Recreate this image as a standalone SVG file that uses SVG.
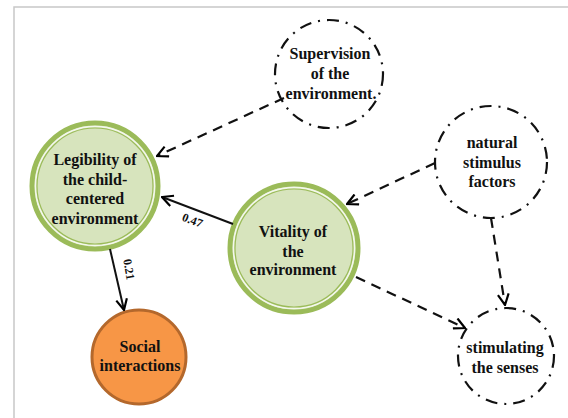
<svg xmlns="http://www.w3.org/2000/svg" width="568" height="418" viewBox="0 0 568 418">
<defs>
<marker id="ah" viewBox="0 0 12 12" refX="11" refY="6" markerWidth="13" markerHeight="13" markerUnits="userSpaceOnUse" orient="auto">
<path d="M1,1 L11,6 L1,11" fill="none" stroke="#000" stroke-width="2"/>
</marker>
</defs>
<style>
.t{font-family:"Liberation Serif","Times New Roman",serif;font-weight:bold;font-size:16px;fill:#111;text-anchor:middle}
.lbl{font-family:"Liberation Serif","Times New Roman",serif;font-weight:bold;font-size:12px;fill:#111;text-anchor:middle}
.g{fill:#d7e4bd;stroke:#9bbb59;stroke-width:5}
.gi{fill:none;stroke:#f4f8ec;stroke-width:1.5}
.gi2{fill:none;stroke:#9bbb59;stroke-width:1.2}
.dd{fill:#fff;stroke:#111;stroke-width:2.2;stroke-dasharray:12 7 2 7}
.solid{fill:none;stroke:#111;stroke-width:2;marker-end:url(#ah)}
.dash{fill:none;stroke:#111;stroke-width:2.2;stroke-dasharray:10 7;marker-end:url(#ah)}
</style>
<rect x="14" y="7" width="560" height="420" fill="#fff" stroke="#c8c8c8" stroke-width="1.5"/>
<g id="supervision">
<circle class="dd" cx="329" cy="74" r="54"/>
<text class="t" x="330" y="59">Supervision</text>
<text class="t" x="330" y="79">of the</text>
<text class="t" x="331" y="99">environment.</text>
</g>
<g id="natural">
<circle class="dd" cx="491" cy="162" r="56"/>
<text class="t" x="492" y="148">natural</text>
<text class="t" x="492" y="168">stimulus</text>
<text class="t" x="492" y="187">factors</text>
</g>
<g id="stimulating">
<circle class="dd" cx="506" cy="356" r="48"/>
<text class="t" x="505" y="353">stimulating</text>
<text class="t" x="505" y="373">the senses</text>
</g>
<g id="legibility">
<circle class="g" cx="95" cy="186" r="63"/>
<circle class="gi" cx="95" cy="186" r="59.5"/>
<circle class="gi2" cx="95" cy="186" r="58"/>
<text class="t" x="95" y="165">Legibility of</text>
<text class="t" x="95" y="185">the child-</text>
<text class="t" x="95" y="204">centered</text>
<text class="t" x="95" y="224">environment</text>
</g>
<g id="vitality">
<circle class="g" cx="294" cy="248" r="64"/>
<circle class="gi" cx="294" cy="248" r="60.5"/>
<circle class="gi2" cx="294" cy="248" r="59"/>
<text class="t" x="293" y="237">Vitality of</text>
<text class="t" x="293" y="257">the</text>
<text class="t" x="293" y="275">environment</text>
</g>
<g id="social">
<circle cx="139" cy="357" r="47" fill="#f79646" stroke="#b4682c" stroke-width="3"/>
<text class="t" x="140" y="352">Social</text>
<text class="t" x="140" y="371">interactions</text>
</g>
<g id="connectors">
<path class="dash" d="M284,98 L157,156"/>
<path class="solid" d="M233,224 L162,197"/>
<path class="solid" d="M110,249 L124,310"/>
<path class="dash" d="M435,163 L347,204"/>
<path class="dash" d="M491,218 L505,305"/>
<path class="dash" d="M356,277 L465,328"/>
<text class="lbl" transform="translate(191,224) rotate(21)">0.47</text>
<text class="lbl" transform="translate(125,270) rotate(80)">0.21</text>
</g>
</svg>
